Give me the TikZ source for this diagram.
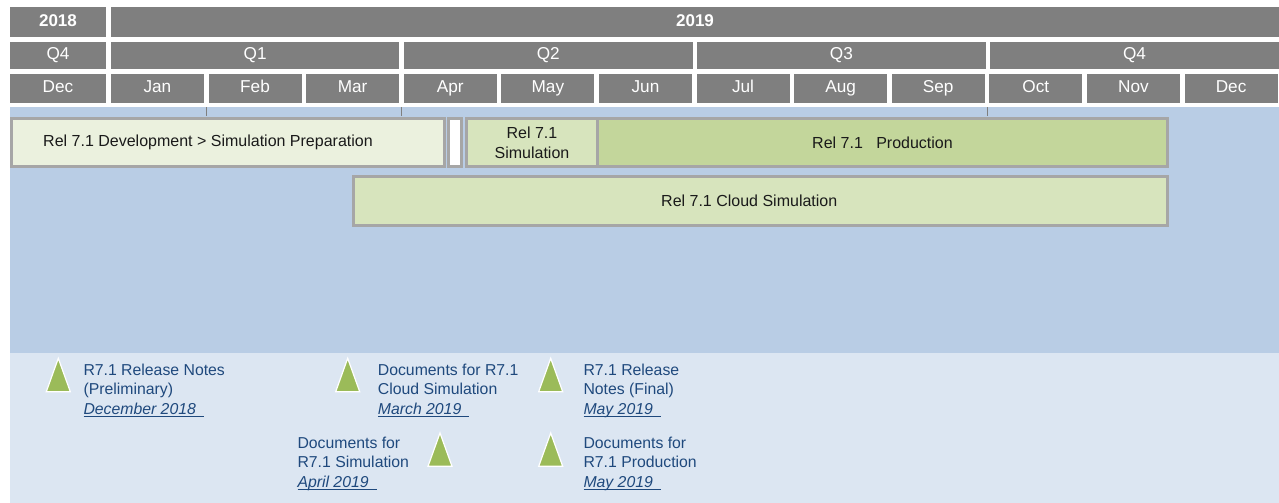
\documentclass[tikz,border=0pt]{standalone}
\usepackage{fontspec}
\setmainfont{Liberation Sans}
\usetikzlibrary{positioning}

\definecolor{hdrgray}{RGB}{127,127,127}
\definecolor{bandblue}{RGB}{185,205,229}
\definecolor{bandlight}{RGB}{220,230,242}
\definecolor{barborder}{RGB}{166,166,166}
\definecolor{devfill}{RGB}{235,241,222}
\definecolor{simfill}{RGB}{215,228,189}
\definecolor{prodfill}{RGB}{195,214,155}
\definecolor{msgreen}{RGB}{155,187,89}
\definecolor{notetext}{RGB}{31,73,125}
\definecolor{bartext}{RGB}{26,26,26}

% date line of a milestone, underlined a bit past its end
\newcommand{\udate}[1]{\setbox0\hbox{\itshape #1\hspace{8pt}}\rlap{\rule[-2.2pt]{\wd0}{0.9pt}}\box0}

\begin{document}
\begin{tikzpicture}[x=1pt, y=1pt,
	hdr/.style={fill=hdrgray, text=white, inner sep=0pt, outer sep=0pt, minimum width=92.9pt, text height=12.4pt, text depth=3.6pt, font=\fontsize{17.2}{20}\selectfont},
	yearbox/.style={hdr, minimum height=30pt, font=\fontsize{17}{20}\selectfont\bfseries},
	qbox/.style={hdr, minimum height=27pt},
	monthbox/.style={hdr, minimum height=29pt},
	taskbar/.style={draw=barborder, line width=3pt, minimum height=48pt, inner sep=0pt, text=bartext, align=center, font=\fontsize{16}{20}\selectfont},
	milestone/.style={fill=msgreen, draw=white, line width=1.2pt},
	msnote/.style={anchor=north west, inner sep=0pt, align=left, text=notetext, font=\fontsize{15.8}{19.6}\selectfont}]

	\useasboundingbox (0,0) rectangle (1279,-503);

	% Background bands
	\fill[bandblue] (10,-107) rectangle (1279,-353);
	\fill[bandlight] (10,-353) rectangle (1279,-503);
	\foreach \tx in {206,401,987}
		\draw[hdrgray, line width=0.8pt] (\tx,-107) -- (\tx,-116);

	% Years
	\node[yearbox, minimum width=96pt, anchor=north west] (y2018) at (10,-7) {2018};
	\node[yearbox, minimum width=1168pt, right=5pt of y2018] (y2019) {2019};

	% Quarters
	\node[qbox, minimum width=96pt, anchor=north west] (q4old) at (10,-42) {Q4};
	\node[qbox, minimum width=288.4pt, right=5pt of q4old] (q1) {Q1};
	\node[qbox, minimum width=288.4pt, right=4.7pt of q1] (q2) {Q2};
	\node[qbox, minimum width=288.4pt, right=4.7pt of q2] (q3) {Q3};
	\node[qbox, minimum width=288.4pt, right=4.7pt of q3] (q4) {Q4};

	% Months
	\node[monthbox, minimum width=96pt, anchor=north west] (decold) at (10,-74) {Dec};
	\node[monthbox, right=5pt of decold] (jan) {Jan};
	\node[monthbox, right=4.7pt of jan] (feb) {Feb};
	\node[monthbox, right=4.7pt of feb] (mar) {Mar};
	\node[monthbox, right=4.7pt of mar] (apr) {Apr};
	\node[monthbox, right=4.7pt of apr] (may) {May};
	\node[monthbox, right=4.7pt of may] (jun) {Jun};
	\node[monthbox, right=4.7pt of jun] (jul) {Jul};
	\node[monthbox, right=4.7pt of jul] (aug) {Aug};
	\node[monthbox, right=4.7pt of aug] (sep) {Sep};
	\node[monthbox, right=4.7pt of sep] (oct) {Oct};
	\node[monthbox, right=4.7pt of oct] (nov) {Nov};
	\node[monthbox, right=4.7pt of nov] (dec) {Dec};

	% Release 7.1 bars
	\node[taskbar, fill=devfill, minimum width=433pt, anchor=north west] (dev) at (10,-117) {Rel 7.1 Development > Simulation Preparation\hspace*{40pt}};
	\node[taskbar, fill=white, minimum width=13pt, right=1pt of dev] (gap) {};
	\node[taskbar, fill=simfill, minimum width=131pt, right=2pt of gap] (sim) {Rel 7.1\\Simulation};
	\node[taskbar, fill=prodfill, minimum width=570pt, right=-3pt of sim] (prod) {Rel 7.1\ \ \ Production};
	\node[taskbar, fill=simfill, minimum width=814.5pt, minimum height=49pt, anchor=north west] (cloud) at (351.5,-175) {Rel 7.1 Cloud Simulation\hspace*{22pt}};

	% Milestones
	\draw[milestone] (46.3,-391.7) -- (58.3,-358.3) -- (70.3,-391.7) -- cycle;
	\node[msnote] (notespre) at (83.3,-363.5) {R7.1 Release Notes\\(Preliminary)\\\udate{December 2018}};

	\draw[milestone] (335.7,-391.7) -- (347.7,-358.3) -- (359.7,-391.7) -- cycle;
	\node[msnote] (docscloud) at (377.7,-363.5) {Documents for R7.1\\Cloud Simulation\\\udate{March 2019}};

	\draw[milestone] (538.7,-391.7) -- (550.7,-358.3) -- (562.7,-391.7) -- cycle;
	\node[msnote] (notesfin) at (583.3,-363.5) {R7.1 Release\\Notes (Final)\\\udate{May 2019}};

	\draw[milestone] (428,-466.3) -- (440,-433) -- (452,-466.3) -- cycle;
	\node[msnote] (docssim) at (297.3,-436.5) {Documents for\\R7.1 Simulation\\\udate{April 2019}};

	\draw[milestone] (538.7,-466.3) -- (550.7,-433) -- (562.7,-466.3) -- cycle;
	\node[msnote] (docsprod) at (583.3,-436.5) {Documents for\\R7.1 Production\\\udate{May 2019}};

\end{tikzpicture}
\end{document}
